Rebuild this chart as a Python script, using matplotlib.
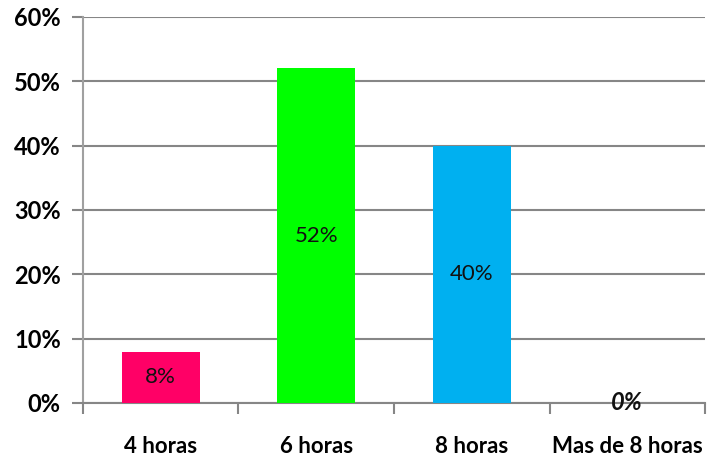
import matplotlib
matplotlib.use("Agg")
import matplotlib.pyplot as plt
import numpy as np
from matplotlib.ticker import PercentFormatter

# Data
categories = ["4 horas", "6 horas", "8 horas", "Mas de 8 horas"]
values = [8, 52, 40, 0]
colors = ["#FF0066", "#00FF00", "#00B0F0", "#FFFFFF"]

plt.rcParams["font.family"] = ["Lato", "DejaVu Sans"]

fig = plt.figure(figsize=(7.13, 4.58), dpi=100)
ax = fig.add_axes([0.1164, 0.1201, 0.8724, 0.8428])

x = np.arange(len(categories))
bars = ax.bar(x, values, width=0.5, color=colors, zorder=3)

ax.set_xlim(-0.5, len(categories) - 0.5)
ax.set_ylim(0, 60)
ax.set_yticks(np.arange(0, 61, 10))
ax.yaxis.set_major_formatter(PercentFormatter(decimals=0))

# grid and spines
ax.grid(axis="y", color="#868686", linewidth=1.5, zorder=0)
for side in ["top", "right"]:
    ax.spines[side].set_visible(False)
ax.spines["left"].set_color("#A0A0A0")
ax.spines["left"].set_linewidth(1.5)
ax.spines["bottom"].set_color("#868686")
ax.spines["bottom"].set_linewidth(1.5)

# category ticks at the boundaries
ax.set_xticks(np.arange(-0.5, len(categories), 1.0))
ax.set_xticklabels([])
ax.set_xticks(x, minor=True)
ax.set_xticklabels(categories, minor=True, fontsize=16, fontweight="bold")
ax.tick_params(axis="x", which="major", length=8, width=1.5, color="#868686", direction="out")
ax.tick_params(axis="x", which="minor", length=0, pad=24)
ax.tick_params(axis="y", length=8, width=1.5, color="#868686", labelsize=17, pad=8)
for lbl in ax.get_yticklabels():
    lbl.set_fontweight("bold")

# value labels in the middle of each bar (the 0% one sits on the axis, bold italic)
for xi, v in zip(x, values):
    if v == 0:
        ax.text(xi, v, f"{v}%", ha="center", va="center", fontsize=17,
                fontstyle="italic", fontweight="bold", color="#111111", zorder=4)
    else:
        ax.text(xi, v / 2, f"{v}%", ha="center", va="center", fontsize=16,
                color="#111111", zorder=4)

fig.savefig("out.png", dpi=100)
